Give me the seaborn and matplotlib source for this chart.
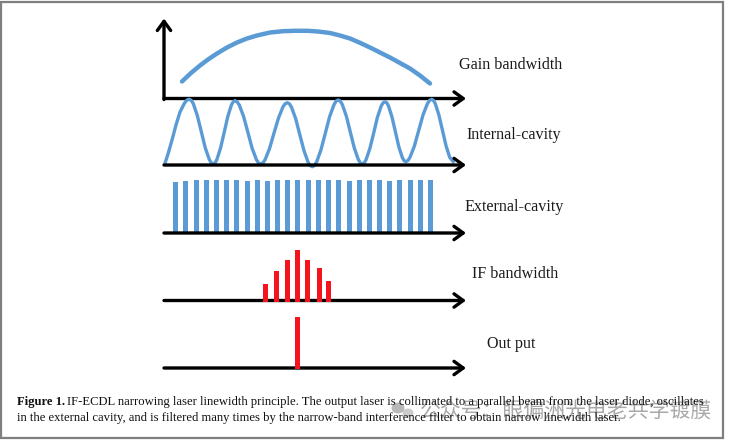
import matplotlib.pyplot as plt
from matplotlib.patches import Ellipse, Rectangle
import seaborn as sns

# data, x in px along the shared axis, heights in px above each baseline
gain_x = [182, 191, 200, 208, 217, 227, 237, 247, 257, 270, 283, 295, 307,
          318, 330, 340, 350, 360, 370, 380, 390, 400, 410, 420, 430]
gain_h = [17, 25.5, 33, 39, 45, 51, 56, 60, 63, 66, 67.3, 67.7, 67.7,
          67, 65.5, 63, 60, 55.7, 51, 46, 41, 35.5, 30, 23, 15]

internal_x = [165, 168, 172, 176, 180, 184, 186, 187.5, 189.3,
              191.3, 193.3, 197.3, 201.3, 205.3, 209.3, 211.3, 213.3,
              215.1, 216.9, 220.5, 224.2, 227.8, 231.4, 233.2, 235,
              237.1, 239.3, 243.6, 247.9, 252.1, 256.4, 258.5, 260.7,
              262.9, 265.1, 269.5, 273.9, 278.5, 282.9, 285.1, 287.3,
              289.4, 291.5, 295.7, 299.8, 304, 308.1, 310.2, 312.3,
              314.4, 316.6, 320.9, 325.3, 329.6, 334, 336.1, 338.3,
              340.3, 342.3, 346.3, 350.3, 354.3, 358.3, 360.3, 362.3,
              364.2, 366.1, 369.9, 373.7, 377.4, 381.2, 383.1, 385,
              386.8, 388.5, 391.9, 395.4, 398.8, 402.3, 404, 405.7,
              407.9, 410, 414.4, 418.7, 423, 427.4, 429.5, 431.7,
              433.5, 435.3, 438.9, 442.5, 446.1, 449.7, 453.3]
internal_h = [1.7, 11, 25, 40, 53, 61, 64, 65.2, 65.7,
              64.6, 61.3, 49.5, 33.3, 17, 5.5, 2.1, 1,
              2.1, 5.5, 16.8, 32.6, 48.5, 60, 63.2, 64.3,
              63.2, 60, 48.5, 32.6, 16.8, 5.4, 2.1, 1,
              2.1, 5.3, 16.3, 31.6, 47, 58, 61.2, 62.3,
              61.2, 57.8, 46.3, 30.3, 14.3, 2.8, -0.6, -1.7,
              -0.6, 3, 15, 31.7, 48.3, 60.3, 63.9, 65,
              63.9, 60.5, 49, 33, 17, 5.5, 2.1, 1,
              2.1, 5.4, 16.6, 32, 47.7, 59, 62.2, 63.3,
              62.2, 59, 48.3, 33.3, 18.3, 7.5, 4.4, 3.3,
              4.4, 7.7, 19, 34.5, 50, 61.3, 64.6, 65.7,
              64.6, 61.3, 50, 34.5, 19, 7.7, 3.3]

external_x = [175.7, 185.7, 196, 206, 216.3, 226.7, 236.7, 247, 257, 267.3, 277.3, 287.7, 297.7,
              308, 318.3, 328.3, 338.7, 349, 359, 369, 379.3, 389.3, 399.7, 410, 420, 430.3]
external_h = [51, 52, 52.7, 52.7, 52.7, 52.7, 52.7, 52, 52.7, 52, 52.7, 52.7, 52.7,
              53.3, 52.7, 53.3, 53.3, 52, 52.7, 52.7, 52.7, 51.7, 52.7, 53.3, 52.7, 53.3]

if_x = [265, 276.3, 287, 297.7, 307.3, 319, 328.7]
if_h = [18, 31, 42, 52, 42, 33.5, 20.5]

out_x = [297.7]
out_h = [52]

labels = ['Gain bandwidth', 'Internal-cavity', 'External-cavity', 'IF bandwidth', 'Out put']
label_x = [511, 514, 514, 515, 511]
label_y = [65, 135, 207, 274, 344]
baselines = [98.5, 165, 233, 300.5, 368]

BLUE = '#5B9BD5'
RED = '#F5141E'
W, H = 732, 440

sns.set_theme(style='white')
plt.rcParams['font.family'] = ['Liberation Serif', 'DejaVu Serif']

fig = plt.figure(figsize=(W / 100, H / 100), dpi=100, facecolor='white')

# page layer, data coords are pixels
bg = fig.add_axes([0, 0, 1, 1])
bg.set_xlim(0, W)
bg.set_ylim(H, 0)
bg.axis('off')
bg.add_patch(Rectangle((1, 2), 722, 436, fill=False, ec='#7f7f7f', lw=1.6))

for lab, lx, ly in zip(labels, label_x, label_y):
    bg.text(lx, ly, lab, fontsize=11.6, color='#1a1a1a', ha='center', va='center')

# watermark sits under the caption text
bg.add_patch(Ellipse((398, 408), 13, 11, color='#9a9a9a', alpha=0.7, lw=0))
bg.add_patch(Ellipse((408, 413), 11, 9, color='#b5b5b5', alpha=0.7, lw=0))
bg.text(420, 411, '公众号：眼偏洲光电老共学镀膜', fontsize=15, color='#a8a8a8',
        family=['Noto Sans CJK SC', 'DejaVu Sans'], va='center', zorder=1)

cap_y1, cap_y2 = 402, 418
bg.text(17, cap_y1, 'Figure 1.', fontsize=9.1, fontweight='bold', color='#111111', va='center', zorder=2)
bg.text(67, cap_y1, 'IF-ECDL narrowing laser linewidth principle. The output laser is collimated to a '
        'parallel beam from the laser diode, oscillates', fontsize=9.1, color='#111111', va='center', zorder=2)
bg.text(17, cap_y2, 'in the external cavity, and is filtered many times by the narrow-band interference '
        'filter to obtain narrow linewidth laser.', fontsize=9.1, color='#111111', va='center', zorder=2)

arrow = dict(arrowstyle='->,head_length=0.55,head_width=0.4', color='black', lw=2.4, shrinkA=0, shrinkB=0)


def panel(baseline):
    # one strip per trace, own y scale with 0 on the baseline
    top, bottom = baseline - 82, baseline + 12
    ax = fig.add_axes([0, 1 - bottom / H, 1, (bottom - top) / H])
    ax.set_xlim(0, W)
    ax.set_ylim(-12, 82)
    ax.axis('off')
    ax.patch.set_alpha(0)
    ax.annotate('', xy=(466, 0), xytext=(164, 0), arrowprops=arrow)
    return ax


ax1 = panel(baselines[0])
ax1.annotate('', xy=(164, 80), xytext=(164, -1), arrowprops=arrow)
sns.lineplot(x=gain_x, y=gain_h, ax=ax1, color=BLUE, lw=3.2, sort=False, legend=False)

ax2 = panel(baselines[1])
sns.lineplot(x=internal_x, y=internal_h, ax=ax2, color=BLUE, lw=2.4, sort=False, legend=False)

ax3 = panel(baselines[2])
ax3.bar(external_x, external_h, width=5, color=BLUE, lw=0, zorder=1)

ax4 = panel(baselines[3])
ax4.bar(if_x, if_h, bottom=-1, width=5, color=RED, lw=0, zorder=3)

ax5 = panel(baselines[4])
ax5.bar(out_x, out_h, bottom=-1, width=5, color=RED, lw=0, zorder=3)

fig.savefig('out.png', dpi=100)
